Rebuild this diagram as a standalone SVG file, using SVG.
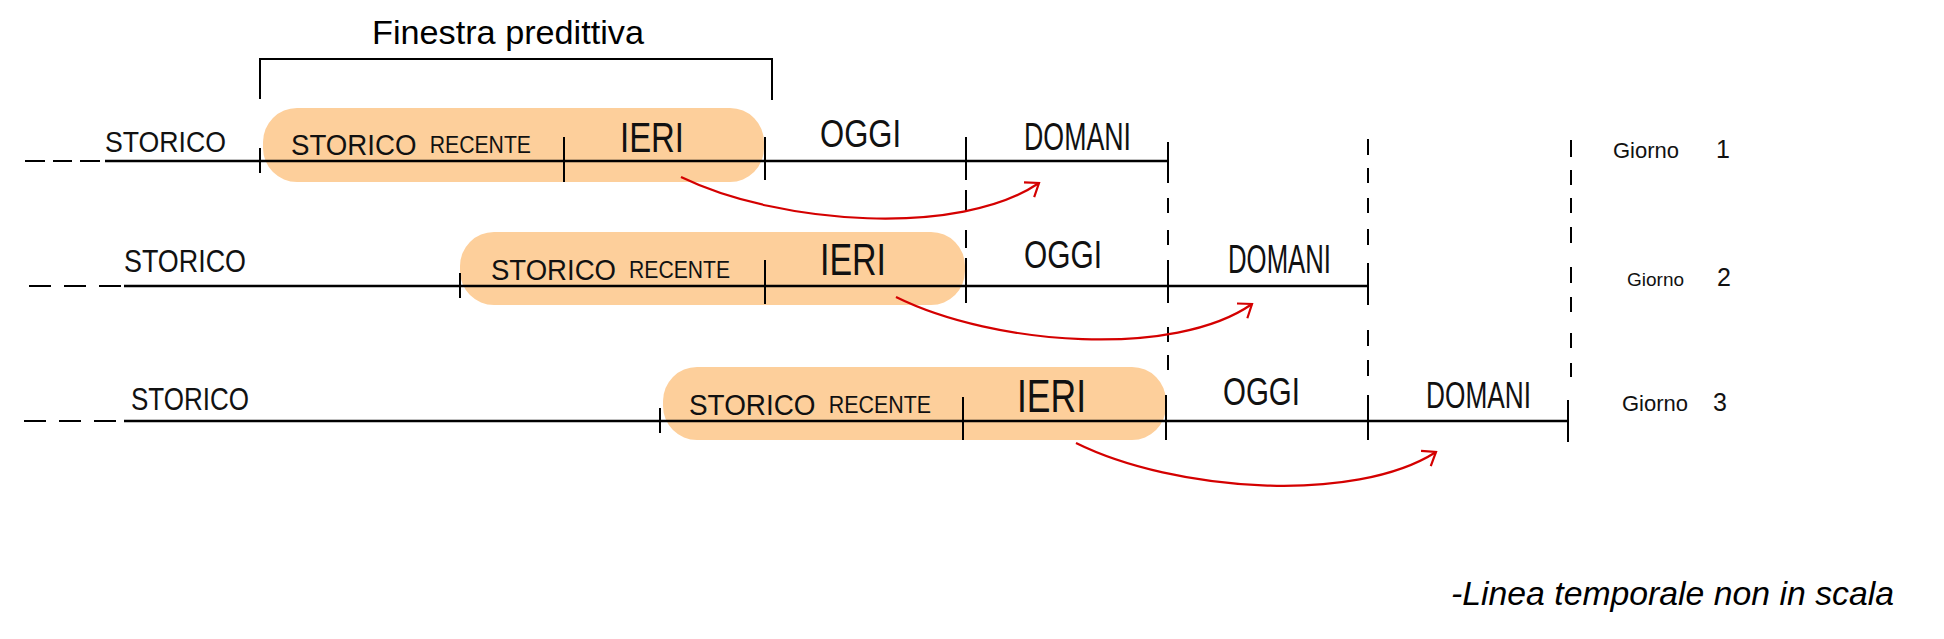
<svg xmlns="http://www.w3.org/2000/svg" width="1944" height="639" viewBox="0 0 1944 639">
<style>
.ln{stroke:#000;stroke-width:2.5;fill:none;stroke-linecap:butt}
.tk{stroke:#000;stroke-width:2;fill:none}
.dv{stroke:#000;stroke-width:2;fill:none}
.pill{fill:#fdcf9b}
.hw{font-family:"Liberation Sans",Arial,sans-serif;fill:#111}
.ttl{font-family:"Liberation Sans",Arial,sans-serif;font-size:34px;fill:#000}
.note{font-family:"Liberation Sans",Arial,sans-serif;font-size:34px;font-style:italic;fill:#000}
.arr{stroke:#d40000;stroke-width:2.2;fill:none;marker-end:url(#ah)}
</style>
<defs>
<marker id="ah" viewBox="-14 -12 16 24" markerWidth="16" markerHeight="24" refX="0" refY="0" orient="auto" markerUnits="userSpaceOnUse">
<path d="M-12,-9 L0,0 L-12,9" fill="none" stroke="#d40000" stroke-width="2.2"/>
</marker>
</defs>
<rect width="1944" height="639" fill="#fff"/>

<g id="finestra">
<text class="ttl" x="372" y="44" textLength="272" lengthAdjust="spacingAndGlyphs">Finestra predittiva</text>
<path class="tk" d="M260,99 L260,59 L772,59 L772,100"/>
</g>

<g id="pills">
<rect class="pill" x="263" y="108" width="501" height="74" rx="34"/>
<rect class="pill" x="460" y="232" width="505" height="73" rx="34"/>
<rect class="pill" x="663" y="367" width="503" height="73" rx="34"/>
</g>

<g id="row1">
<path class="tk" d="M25,161 H45 M53,161 H72 M80,161 H100"/>
<path class="ln" d="M105,161 H1168"/>
<path class="tk" d="M260,148 V173 M564,137 V182 M765,137 V180 M966,137 V180 M1168,142 V183"/>
<text class="hw" x="105" y="152" font-size="30" textLength="121" lengthAdjust="spacingAndGlyphs">STORICO</text>
<text class="hw" x="291" y="155" font-size="30" textLength="240" lengthAdjust="spacingAndGlyphs">STORICO <tspan font-size="23" dx="6" dy="-2">RECENTE</tspan></text>
<text class="hw" x="620" y="152" font-size="42" textLength="64" lengthAdjust="spacingAndGlyphs">IERI</text>
<text class="hw" x="820" y="147" font-size="39" textLength="81" lengthAdjust="spacingAndGlyphs">OGGI</text>
<text class="hw" x="1024" y="150" font-size="38" textLength="107" lengthAdjust="spacingAndGlyphs">DOMANI</text>
</g>

<g id="row2">
<path class="tk" d="M29,286 H51 M64,286 H86 M99,286 H121"/>
<path class="ln" d="M124,286 H1368"/>
<path class="tk" d="M460,273 V298 M765,260 V304 M966,258 V303 M1168,260 V303 M1368,263 V305"/>
<text class="hw" x="124" y="272" font-size="31" textLength="122" lengthAdjust="spacingAndGlyphs">STORICO</text>
<text class="hw" x="491" y="280" font-size="30" textLength="239" lengthAdjust="spacingAndGlyphs">STORICO <tspan font-size="23" dx="6" dy="-2">RECENTE</tspan></text>
<text class="hw" x="820" y="275" font-size="44" textLength="66" lengthAdjust="spacingAndGlyphs">IERI</text>
<text class="hw" x="1024" y="268" font-size="39" textLength="78" lengthAdjust="spacingAndGlyphs">OGGI</text>
<text class="hw" x="1228" y="273" font-size="40" textLength="103" lengthAdjust="spacingAndGlyphs">DOMANI</text>
</g>

<g id="row3">
<path class="tk" d="M24,421 H46 M59,421 H81 M94,421 H116"/>
<path class="ln" d="M124,421 H1568"/>
<path class="tk" d="M660,408 V433 M963,397 V440 M1166,395 V440 M1368,395 V440 M1568,400 V442"/>
<text class="hw" x="131" y="410" font-size="31" textLength="118" lengthAdjust="spacingAndGlyphs">STORICO</text>
<text class="hw" x="689" y="415" font-size="30" textLength="242" lengthAdjust="spacingAndGlyphs">STORICO <tspan font-size="23" dx="6" dy="-2">RECENTE</tspan></text>
<text class="hw" x="1017" y="412" font-size="46" textLength="69" lengthAdjust="spacingAndGlyphs">IERI</text>
<text class="hw" x="1223" y="405" font-size="39" textLength="77" lengthAdjust="spacingAndGlyphs">OGGI</text>
<text class="hw" x="1426" y="408" font-size="37" textLength="105" lengthAdjust="spacingAndGlyphs">DOMANI</text>
</g>

<g id="dividers">
<path class="dv" d="M966,190 V212 M966,230 V248"/>
<path class="dv" d="M1168,198 V213 M1168,230 V245 M1168,327 V342 M1168,355 V370"/>
<path class="dv" d="M1368,139 V155 M1368,168 V183 M1368,198 V213 M1368,229 V245 M1368,330 V346 M1368,360 V376"/>
<path class="dv" d="M1571,140 V157 M1571,170 V185 M1571,198 V213 M1571,227 V243 M1571,267 V283 M1571,297 V312 M1571,333 V348 M1571,363 V377"/>
</g>

<g id="giorni">
<text class="hw" x="1613" y="158" font-size="22">Giorno <tspan x="1716" font-size="25">1</tspan></text>
<text class="hw" x="1627" y="286" font-size="19">Giorno <tspan x="1717" font-size="25">2</tspan></text>
<text class="hw" x="1622" y="411" font-size="22">Giorno <tspan x="1713" font-size="25">3</tspan></text>
</g>

<g id="connectors">
<path class="arr" d="M681,177 C780,225 960,237 1039,183"/>
<path class="arr" d="M896,297 C995,346 1175,358 1252,304"/>
<path class="arr" d="M1076,443 C1175,492 1355,504 1436,452"/>
</g>

<g id="nota">
<text class="note" x="1451" y="605" textLength="443" lengthAdjust="spacingAndGlyphs">-Linea temporale non in scala</text>
</g>
</svg>
